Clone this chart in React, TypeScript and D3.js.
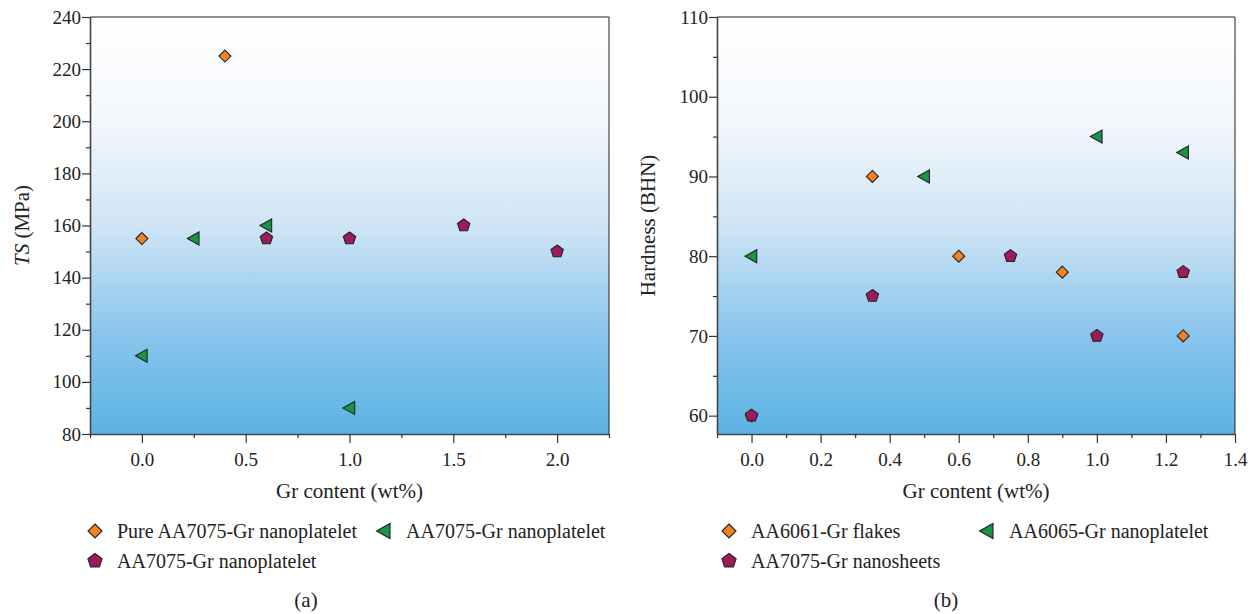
import React, { useEffect, useRef } from "react";
import * as d3 from "d3";

// panel (a) - tensile strength
const tsPure = [
  { x: 0, y: 155 },
  { x: 0.4, y: 225 },
];
const tsTri = [
  { x: 0, y: 110 },
  { x: 0.25, y: 155 },
  { x: 0.6, y: 160 },
  { x: 1.0, y: 90 },
];
const tsPent = [
  { x: 0.6, y: 155 },
  { x: 1.0, y: 155 },
  { x: 1.55, y: 160 },
  { x: 2.0, y: 150 },
];
const tsXTicks = [0, 0.5, 1.0, 1.5, 2.0];
const tsYTicks = [80, 100, 120, 140, 160, 180, 200, 220, 240];

// panel (b) - hardness
const hdFlakes = [
  { x: 0, y: 60 },
  { x: 0.35, y: 90 },
  { x: 0.6, y: 80 },
  { x: 0.9, y: 78 },
  { x: 1.25, y: 70 },
];
const hdTri = [
  { x: 0, y: 80 },
  { x: 0.5, y: 90 },
  { x: 1.0, y: 95 },
  { x: 1.25, y: 93 },
];
const hdPent = [
  { x: 0, y: 60 },
  { x: 0.35, y: 75 },
  { x: 0.75, y: 80 },
  { x: 1.0, y: 70 },
  { x: 1.25, y: 78 },
];
const hdXTicks = [0, 0.2, 0.4, 0.6, 0.8, 1.0, 1.2, 1.4];
const hdYTicks = [60, 70, 80, 90, 100, 110];

const ORANGE = "#f58220";
const GREEN = "#1a9446";
const PURPLE = "#9b1b5c";
const FONT = "'Liberation Serif', 'DejaVu Serif', serif";

type Pt = { x: number; y: number };

const diamond = (s: number) => `M0,${-s}L${s},0L0,${s}L${-s},0Z`;
const triLeft = (s: number) => `M${-s},0L${s * 0.8},${-s}L${s * 0.8},${s}Z`;
const pentagon = (s: number) => {
  const pts = d3.range(5).map((i) => {
    const a = -Math.PI / 2 + (i * 2 * Math.PI) / 5;
    return [Math.cos(a) * s, Math.sin(a) * s];
  });
  return "M" + pts.map((p) => p.join(",")).join("L") + "Z";
};

const App = () => {
  const ref = useRef<SVGSVGElement>(null);

  useEffect(() => {
    const svg = d3.select(ref.current);
    svg.selectAll("*").remove();

    const defs = svg.append("defs");
    const grad = defs
      .append("linearGradient")
      .attr("id", "bg")
      .attr("x1", 0)
      .attr("y1", 0)
      .attr("x2", 0)
      .attr("y2", 1);
    grad.append("stop").attr("offset", "0%").attr("stop-color", "#ffffff");
    grad.append("stop").attr("offset", "25%").attr("stop-color", "#f3f7fc");
    grad.append("stop").attr("offset", "50%").attr("stop-color", "#cfe5f5");
    grad.append("stop").attr("offset", "75%").attr("stop-color", "#8cc6ec");
    grad.append("stop").attr("offset", "100%").attr("stop-color", "#5cb2e3");

    const drawPanel = (opts: {
      left: number;
      right: number;
      xDomain: [number, number];
      yDomain: [number, number];
      xTicks: number[];
      yTicks: number[];
      xMinor: number[];
      yMinor: number[];
      series: { data: Pt[]; color: string; shape: string }[];
      yTitle: (t: any) => void;
      yTitleX: number;
      legend: { label: string; color: string; shape: string; x: number; y: number }[];
      captionX: number;
      caption: string;
    }) => {
      const top = 17;
      const bottom = 434;
      const x = d3.scaleLinear().domain(opts.xDomain).range([opts.left, opts.right]);
      const y = d3.scaleLinear().domain(opts.yDomain).range([bottom, top]);
      const g = svg.append("g");

      g.append("rect")
        .attr("x", opts.left)
        .attr("y", top)
        .attr("width", opts.right - opts.left)
        .attr("height", bottom - top)
        .attr("fill", "url(#bg)");

      // frame top/right
      g.append("path")
        .attr("d", `M${opts.left},${top}H${opts.right}V${bottom}`)
        .attr("fill", "none")
        .attr("stroke", "#222")
        .attr("stroke-width", 1);

      const xAxis = g
        .append("g")
        .attr("transform", `translate(0,${bottom})`)
        .call(
          d3.axisBottom(x).tickValues(opts.xTicks).tickFormat((d) => d3.format(".1f")(d as number)).tickSize(9).tickSizeOuter(0)
        );
      g.append("g")
        .attr("transform", `translate(0,${bottom})`)
        .call(d3.axisBottom(x).tickValues(opts.xMinor).tickFormat(() => "").tickSize(4).tickSizeOuter(0))
        .call((a) => a.select(".domain").remove());

      const yAxis = g
        .append("g")
        .attr("transform", `translate(${opts.left},0)`)
        .call(d3.axisLeft(y).tickValues(opts.yTicks).tickSize(8).tickSizeOuter(0));
      g.append("g")
        .attr("transform", `translate(${opts.left},0)`)
        .call(d3.axisLeft(y).tickValues(opts.yMinor).tickFormat(() => "").tickSize(4).tickSizeOuter(0))
        .call((a) => a.select(".domain").remove());

      g.selectAll(".domain").attr("stroke", "#444").attr("stroke-width", 1.6);
      g.selectAll(".tick line").attr("stroke", "#333").attr("stroke-width", 1.2);
      g.selectAll(".tick text")
        .attr("font-family", FONT)
        .attr("font-size", 19)
        .attr("fill", "#222");
      xAxis.selectAll(".tick text").attr("y", 19);
      yAxis.selectAll(".tick text").attr("x", -9);

      // markers
      opts.series.forEach((s) => {
        g.append("g")
          .selectAll("path")
          .data(s.data)
          .join("path")
          .attr("transform", (d) => `translate(${x(d.x)},${y(d.y)})`)
          .attr("d", s.shape)
          .attr("fill", s.color)
          .attr("stroke", "#222")
          .attr("stroke-width", 1.1);
      });

      // titles
      const cx = (opts.left + opts.right) / 2;
      g.append("text")
        .attr("x", cx)
        .attr("y", 498)
        .attr("text-anchor", "middle")
        .attr("font-family", FONT)
        .attr("font-size", 21)
        .attr("fill", "#222")
        .text("Gr content (wt%)");

      const yt = g
        .append("text")
        .attr("transform", `translate(${opts.yTitleX},${(top + bottom) / 2}) rotate(-90)`)
        .attr("text-anchor", "middle")
        .attr("font-family", FONT)
        .attr("font-size", 21)
        .attr("fill", "#222");
      opts.yTitle(yt);

      opts.legend.forEach((l) => {
        g.append("path")
          .attr("transform", `translate(${l.x},${l.y})`)
          .attr("d", l.shape)
          .attr("fill", l.color)
          .attr("stroke", "#222")
          .attr("stroke-width", 1.1);
        g.append("text")
          .attr("x", l.x + 22)
          .attr("y", l.y + 7)
          .attr("font-family", FONT)
          .attr("font-size", 20)
          .attr("fill", "#222")
          .text(l.label);
      });

      g.append("text")
        .attr("x", opts.captionX)
        .attr("y", 607)
        .attr("text-anchor", "middle")
        .attr("font-family", FONT)
        .attr("font-size", 21)
        .attr("fill", "#222")
        .text(opts.caption);
    };

    drawPanel({
      left: 90,
      right: 609,
      xDomain: [-0.25, 2.25],
      yDomain: [80, 240],
      xTicks: tsXTicks,
      yTicks: tsYTicks,
      xMinor: d3.range(-0.25, 2.26, 0.5),
      yMinor: d3.range(90, 240, 20),
      series: [
        { data: tsPure, color: ORANGE, shape: diamond(6) },
        { data: tsTri, color: GREEN, shape: triLeft(6.5) },
        { data: tsPent, color: PURPLE, shape: pentagon(6.5) },
      ],
      yTitle: (t) => {
        t.append("tspan").attr("font-style", "italic").text("TS");
        t.append("tspan").text(" (MPa)");
      },
      yTitleX: 29,
      legend: [
        { label: "Pure AA7075-Gr nanoplatelet", color: ORANGE, shape: diamond(7), x: 95, y: 531 },
        { label: "AA7075-Gr nanoplatelet", color: GREEN, shape: triLeft(7.5), x: 384, y: 531 },
        { label: "AA7075-Gr nanoplatelet", color: PURPLE, shape: pentagon(7.5), x: 95, y: 561 },
      ],
      captionX: 306,
      caption: "(a)",
    });

    drawPanel({
      left: 717,
      right: 1235,
      xDomain: [-0.1, 1.4],
      yDomain: [57.7, 110],
      xTicks: hdXTicks,
      yTicks: hdYTicks,
      xMinor: d3.range(-0.1, 1.41, 0.2),
      yMinor: d3.range(65, 110, 10),
      series: [
        { data: hdFlakes, color: ORANGE, shape: diamond(6) },
        { data: hdTri, color: GREEN, shape: triLeft(6.5) },
        { data: hdPent, color: PURPLE, shape: pentagon(6.5) },
      ],
      yTitle: (t) => t.text("Hardness (BHN)"),
      yTitleX: 655,
      legend: [
        { label: "AA6061-Gr flakes", color: ORANGE, shape: diamond(7), x: 729, y: 531 },
        { label: "AA6065-Gr nanoplatelet", color: GREEN, shape: triLeft(7.5), x: 987, y: 531 },
        { label: "AA7075-Gr nanosheets", color: PURPLE, shape: pentagon(7.5), x: 729, y: 561 },
      ],
      captionX: 946,
      caption: "(b)",
    });
  }, []);

  return (
    <svg
      ref={ref}
      width={1255}
      height={614}
      style={{ position: "absolute", left: 0, top: 0, background: "#fff" }}
    />
  );
};

export default App;
